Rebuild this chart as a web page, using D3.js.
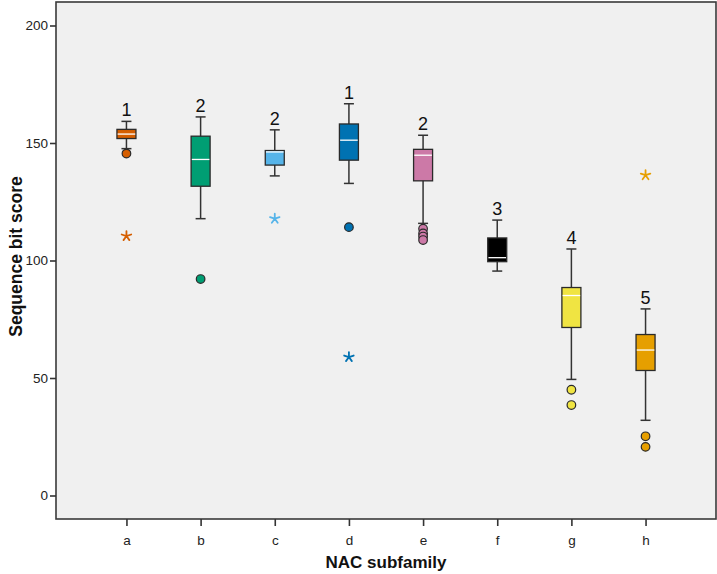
<!DOCTYPE html>
<html>
<head>
<meta charset="utf-8">
<script src="https://cdn.jsdelivr.net/npm/d3@7"></script>
<style>
  body { margin: 0; background: #fff; }
  svg { display: block; }
</style>
</head>
<body>
<div id="chart"></div>
<script>
// ── Data ──────────────────────────────────────────────────────────────────────
const categories = ["a", "b", "c", "d", "e", "f", "g", "h"];
const colors = ["#D55E00", "#009E73", "#56B4E9", "#0072B2", "#CC79A7", "#000000", "#F0E442", "#E69F00"];
const whiskerLow = [147.6, 117.8, 136.0, 132.8, 115.8, 95.5, 49.4, 32.0];
const q1 = [151.9, 131.6, 140.6, 142.7, 133.9, 99.5, 71.5, 53.2];
const medians = [153.8, 143.0, 146.2, 151.2, 144.8, 101.2, 85.1, 61.9];
const q3 = [155.8, 152.9, 146.8, 158.1, 147.3, 109.6, 88.5, 68.5];
const whiskerHigh = [159.2, 161.1, 155.6, 166.7, 153.3, 117.2, 104.9, 79.4];
const outliers = [[145.5], [92.1], [], [114.2], [113.5, 111.5, 110.2, 108.7], [], [45.0, 38.5], [25.2, 20.7]];
const extremes = [[110.4], [], [117.8], [58.9], [], [], [], [136.3]];
const groupLabels = ["1", "2", "2", "1", "2", "3", "4", "5"];
const yTicks = [0, 50, 100, 150, 200];

// ── Layout ────────────────────────────────────────────────────────────────────
const width = 717, height = 574;
const plot = { left: 56, right: 716, top: 2, bottom: 519 };
const boxW = 19, capW = 10;

const svg = d3.select("#chart").append("svg")
  .attr("width", width)
  .attr("height", height);

const x = d3.scalePoint().domain(categories).range([plot.left, plot.right]).padding(0.95);
const y = d3.scaleLinear().domain([-10, 210]).range([plot.bottom, plot.top]);

// plot background + frame
svg.append("rect")
  .attr("x", plot.left).attr("y", plot.top)
  .attr("width", plot.right - plot.left).attr("height", plot.bottom - plot.top)
  .attr("fill", "#f0f0f0")
  .attr("stroke", "#3a3a3a")
  .attr("stroke-width", 1.6);

// ── Axes
const yAxis = svg.append("g")
  .attr("transform", `translate(${plot.left},0)`)
  .call(d3.axisLeft(y).tickValues(yTicks).tickSize(6).tickPadding(2));
const xAxis = svg.append("g")
  .attr("transform", `translate(0,${plot.bottom})`)
  .call(d3.axisBottom(x).tickSize(7).tickPadding(9));

[yAxis, xAxis].forEach((ax) => {
  ax.select(".domain").remove();
  ax.selectAll(".tick line").attr("stroke", "#333").attr("stroke-width", 1.6);
  ax.selectAll(".tick text").attr("fill", "#222");
});
yAxis.selectAll(".tick text")
  .attr("font-family", "Liberation Sans, Arial, sans-serif")
  .attr("font-size", 13.5);
xAxis.selectAll(".tick text")
  .attr("font-family", "Liberation Sans Narrow, Arial Narrow, Liberation Sans, sans-serif")
  .attr("font-size", 13.5);

// axis titles
svg.append("text")
  .attr("x", (plot.left + plot.right) / 2)
  .attr("y", 568)
  .attr("text-anchor", "middle")
  .attr("font-family", "Liberation Sans Narrow, Arial Narrow, Liberation Sans, sans-serif")
  .attr("font-weight", "bold")
  .attr("font-size", 17)
  .attr("fill", "#111")
  .text("NAC subfamily");

svg.append("text")
  .attr("transform", `translate(16,${(plot.top + plot.bottom) / 2 - 4}) rotate(-90)`)
  .attr("text-anchor", "middle")
  .attr("dy", "0.35em")
  .attr("font-family", "Liberation Sans, Arial, sans-serif")
  .attr("font-weight", "bold")
  .attr("font-size", 17.5)
  .attr("fill", "#111")
  .text("Sequence bit score");

// ── Boxes
const data = categories.map((c, i) => ({
  cat: c, color: colors[i],
  lo: whiskerLow[i], q1: q1[i], med: medians[i], q3: q3[i], hi: whiskerHigh[i],
  out: outliers[i], ext: extremes[i], label: groupLabels[i],
}));

const g = svg.append("g");
const box = g.selectAll("g.box").data(data).join("g").attr("class", "box")
  .attr("transform", (d) => `translate(${x(d.cat)},0)`);

// whisker stems
box.append("line")
  .attr("y1", (d) => y(d.hi)).attr("y2", (d) => y(d.lo))
  .attr("stroke", "#333").attr("stroke-width", 1.5);
// caps
["hi", "lo"].forEach((k) => {
  box.append("line")
    .attr("x1", -capW / 2).attr("x2", capW / 2)
    .attr("y1", (d) => y(d[k])).attr("y2", (d) => y(d[k]))
    .attr("stroke", "#333").attr("stroke-width", 1.5);
});
// box body
box.append("rect")
  .attr("x", -boxW / 2).attr("width", boxW)
  .attr("y", (d) => y(d.q3))
  .attr("height", (d) => y(d.q1) - y(d.q3))
  .attr("fill", (d) => d.color)
  .attr("stroke", "#2a2a2a").attr("stroke-width", 1.3);
// median
box.append("line")
  .attr("x1", -boxW / 2 + 0.7).attr("x2", boxW / 2 - 0.7)
  .attr("y1", (d) => y(d.med)).attr("y2", (d) => y(d.med))
  .attr("stroke", "#fff").attr("stroke-width", 1.3);

// outlier circles
box.selectAll("circle").data((d) => d.out.map((v) => ({ v, color: d.color })))
  .join("circle")
  .attr("cy", (o) => y(o.v)).attr("r", 4.3)
  .attr("fill", (o) => o.color)
  .attr("stroke", "#2a2a2a").attr("stroke-width", 1.2);

// extreme values: five-spoke asterisk
const asterisk = {
  draw(ctx, size) {
    const r = Math.sqrt(size) / 2;
    for (let k = 0; k < 5; k++) {
      const a = -Math.PI / 2 + (k * 2 * Math.PI) / 5;
      ctx.moveTo(0, 0);
      ctx.lineTo(r * Math.cos(a), r * Math.sin(a));
    }
  },
};
box.selectAll("path.ext").data((d) => d.ext.map((v) => ({ v, color: d.color })))
  .join("path").attr("class", "ext")
  .attr("transform", (o) => `translate(0,${y(o.v)})`)
  .attr("d", d3.symbol().type(asterisk).size(100))
  .attr("fill", "none")
  .attr("stroke", (o) => o.color)
  .attr("stroke-width", 1.8)
  .attr("stroke-linecap", "round");

// group number above each box
box.append("text")
  .attr("y", (d) => y(d.hi) - 5)
  .attr("text-anchor", "middle")
  .attr("font-family", "Liberation Sans, Arial, sans-serif")
  .attr("font-size", 18)
  .attr("fill", "#111")
  .text((d) => d.label);
</script>
</body>
</html>
